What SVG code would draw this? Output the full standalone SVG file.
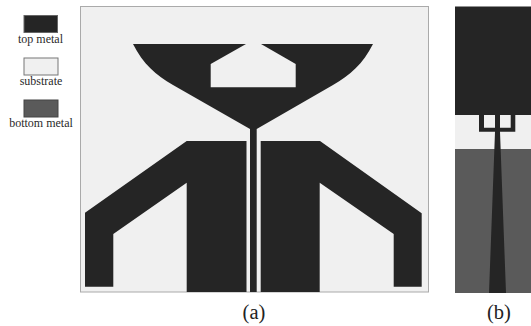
<svg xmlns="http://www.w3.org/2000/svg" width="531" height="326" viewBox="0 0 531 326">
<style>
.t{font-family:"Liberation Serif","Times New Roman",serif;fill:#2a2a2a;text-anchor:middle}
.l{font-size:12px}
.c{font-size:20.5px;fill:#222}
.m{fill:#252525}
</style>
<rect width="531" height="326" fill="#fff"/>
<g id="legend">
<g id="legend-top"><rect x="24" y="15.5" width="33.5" height="17" fill="#252525" stroke="#666" stroke-width="1"/><text class="t l" x="40.5" y="43">top metal</text></g>
<g id="legend-substrate"><rect x="24" y="58" width="34" height="17" fill="#f0f0f0" stroke="#777" stroke-width="1"/><text class="t l" x="41" y="85">substrate</text></g>
<g id="legend-bottom"><rect x="24" y="100" width="34" height="17" fill="#5a5a5a" stroke="#444" stroke-width="1"/><text class="t l" x="41" y="127">bottom metal</text></g>
</g>
<g id="view-a">
<rect x="80.5" y="6.5" width="348" height="285.5" fill="#f0f0f0" stroke="#aaa" stroke-width="1"/>
<path class="m" d="M133 44H246L210.7 64V87.3H295.7V64L261 44H373C363 64 350 75 333 85L256.7 129V292H250V129L173 85C156 75 143 64 133 44Z"/>
<path class="m" d="M186.7 141H246.5V292H186.7V182.7L113.3 234V286.7H85V212.7Z"/>
<path class="m" d="M320 141H260.7V292H319.7V182.7L393.7 234V286.7H421.7V213.3Z"/>
<text class="t c" x="254" y="319">(a)</text>
</g>
<g id="view-b">
<rect x="455" y="6.5" width="76" height="108.5" fill="#252525"/>
<rect x="455" y="115" width="76" height="34" fill="#f0f0f0"/>
<rect x="455" y="149" width="76" height="144" fill="#5a5a5a"/>
<path class="m" d="M479 115H484V127.7H495V115H500V127.7H510.7V115H515.3V131.7H500L506 293H489L495 131.7H479Z"/>
<text class="t c" x="499" y="319">(b)</text>
</g>
</svg>
